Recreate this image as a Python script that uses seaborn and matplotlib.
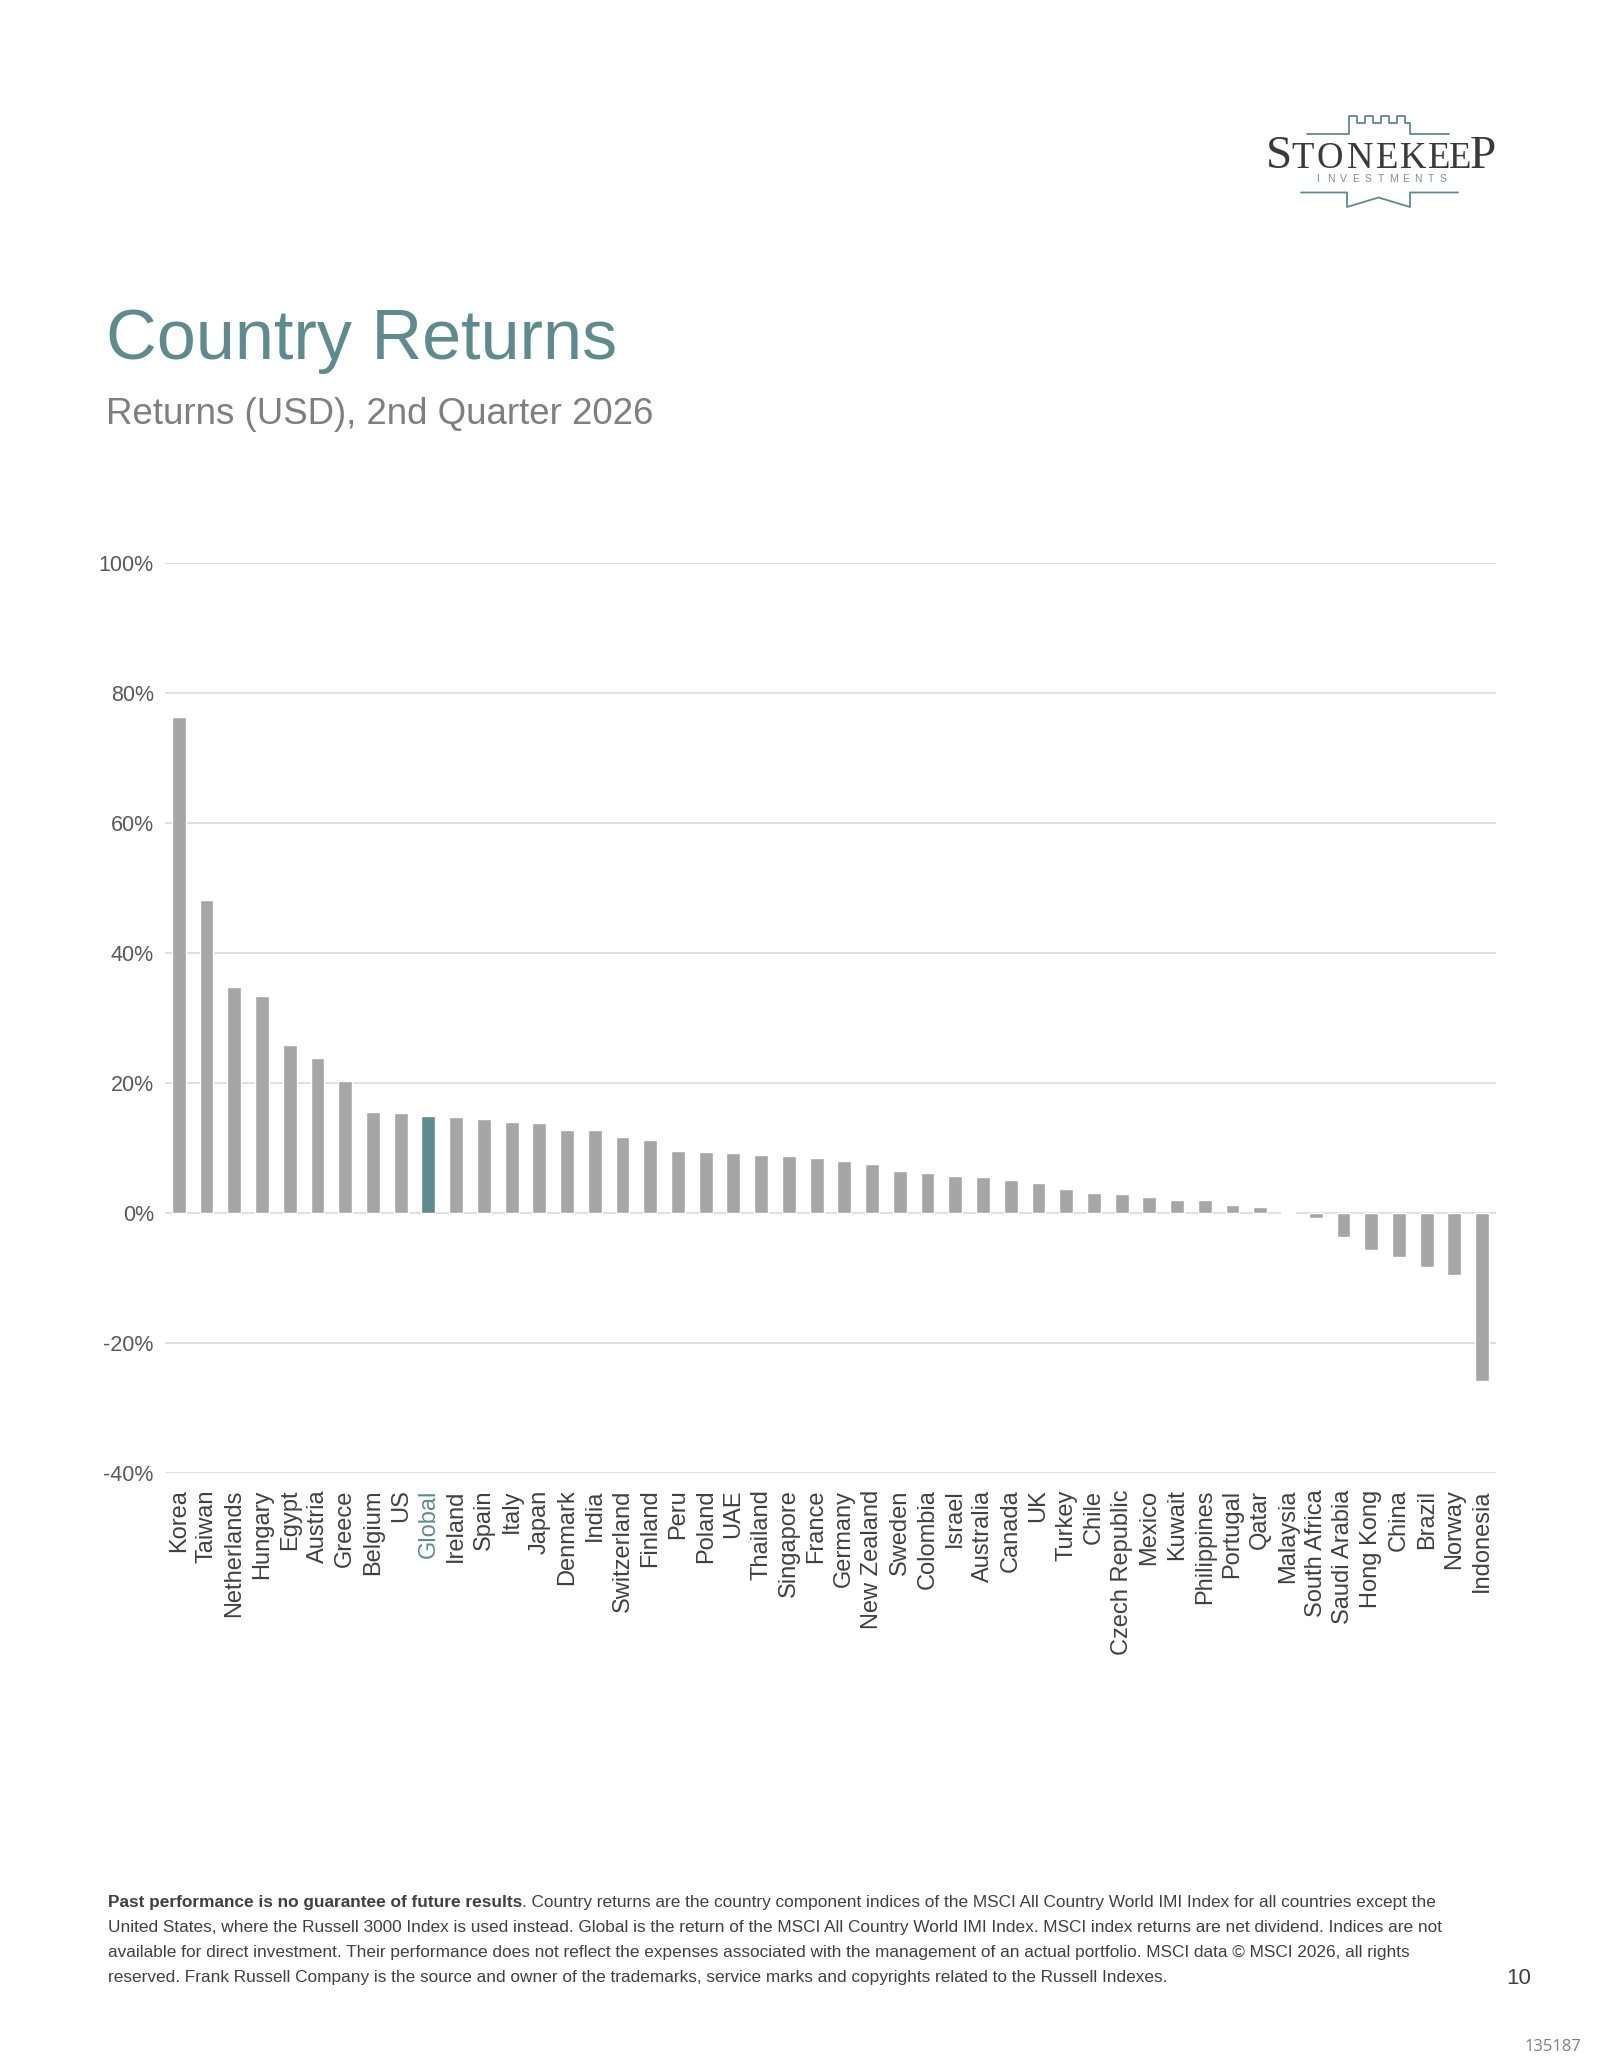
import numpy as np
import pandas as pd
import seaborn as sns
import matplotlib.pyplot as plt
from matplotlib.ticker import FuncFormatter

# data
countries = ["Korea", "Taiwan", "Netherlands", "Hungary", "Egypt", "Austria", "Greece",
             "Belgium", "US", "Global", "Ireland", "Spain", "Italy", "Japan", "Denmark",
             "India", "Switzerland", "Finland", "Peru", "Poland", "UAE", "Thailand",
             "Singapore", "France", "Germany", "New Zealand", "Sweden", "Colombia",
             "Israel", "Australia", "Canada", "UK", "Turkey", "Chile", "Czech Republic",
             "Mexico", "Kuwait", "Philippines", "Portugal", "Qatar", "Malaysia",
             "South Africa", "Saudi Arabia", "Hong Kong", "China", "Brazil", "Norway",
             "Indonesia"]
returns = [76.3, 48.1, 34.7, 33.4, 25.9, 23.9, 20.3,
           15.5, 15.3, 14.9, 14.7, 14.5, 14.0, 13.9, 12.8,
           12.7, 11.7, 11.2, 9.5, 9.3, 9.2, 8.9,
           8.7, 8.5, 8.0, 7.5, 6.5, 6.2,
           5.6, 5.5, 5.1, 4.6, 3.6, 3.0, 2.9,
           2.5, 2.0, 2.0, 1.2, 0.9, 0.1,
           -0.8, -3.7, -5.7, -6.8, -8.4, -9.5,
           -25.9]
highlight = "Global"
y_ticks = [-40, -20, 0, 20, 40, 60, 80, 100]

title = "Country Returns"
subtitle = "Returns (USD), 2nd Quarter 2026"
foot_bold = "Past performance is no guarantee of future results"
foot_lines = [
    ". Country returns are the country component indices of the MSCI All Country World IMI Index for all countries except the",
    "United States, where the Russell 3000 Index is used instead. Global is the return of the MSCI All Country World IMI Index. MSCI index returns are net dividend. Indices are not",
    "available for direct investment. Their performance does not reflect the expenses associated with the management of an actual portfolio. MSCI data \u00a9 MSCI 2026, all rights",
    "reserved. Frank Russell Company is the source and owner of the trademarks, service marks and copyrights related to the Russell Indexes.",
]

TEAL = "#5f8b8f"
BAR_GREY = "#a6a6a6"
GRID = "#d9d9d9"

sns.set_style("white")
plt.rcParams["font.family"] = ["Liberation Sans", "DejaVu Sans"]

df = pd.DataFrame({"country": countries, "ret": returns})
colors = [TEAL if c == highlight else BAR_GREY for c in countries]

fig = plt.figure(figsize=(16, 20.71), dpi=100)
ax = fig.add_axes([0.1031, 0.2888, 0.8319, 0.4394])
sns.barplot(data=df, x="country", y="ret", hue="country", palette=colors,
            legend=False, width=0.5, saturation=1, ax=ax)

ax.set_ylim(-40, 100)
ax.set_xlim(-0.5, len(countries) - 0.5)
ax.set_yticks(y_ticks)
ax.yaxis.set_major_formatter(FuncFormatter(lambda v, _: f"{v:.0f}%"))
ax.yaxis.grid(True, color=GRID, linewidth=1.2)
ax.set_axisbelow(True)
ax.set_xlabel("")
ax.set_ylabel("")
sns.despine(ax=ax, left=True, bottom=True)
ax.tick_params(axis="y", length=0, labelsize=15.5, labelcolor="#595959", pad=8)
ax.tick_params(axis="x", length=0, labelsize=17, labelcolor="#404040", pad=12,
               labelrotation=90)
for lbl in ax.get_xticklabels():
    if lbl.get_text() == highlight:
        lbl.set_color(TEAL)

# page overlay in pixel coordinates
pg = fig.add_axes([0, 0, 1, 1], zorder=-1)
pg.set_xlim(0, 1600)
pg.set_ylim(2071, 0)
pg.axis("off")

pg.text(106, 359, title, fontsize=50.6, color=TEAL, va="baseline")
pg.text(106, 424, subtitle, fontsize=26.4, color="#7f7f7f", va="baseline")

# logo
logo_font = ["Liberation Serif", "DejaVu Serif"]
logo_x = [1266, 1291, 1316, 1347, 1376, 1400, 1428, 1449, 1470]
logo_letters = "STONEKEEP"
for i, ch in enumerate(logo_letters):
    big = i in (0, len(logo_letters) - 1)
    pg.text(logo_x[i], 168, ch, fontsize=34 if big else 26.5, color="#3a3a3a",
            family=logo_font, va="baseline", ha="left")
inv = "INVESTMENTS"
for i, ch in enumerate(inv):
    pg.text(1318 + i * 12.5, 179, ch, fontsize=7.5, color="#8a8a8a",
            ha="center", va="center")
top_x = [1307, 1349, 1349, 1357, 1357, 1365, 1365, 1373, 1373, 1381, 1381,
         1389, 1389, 1397, 1397, 1405, 1405, 1410, 1410, 1449]
top_y = [134, 134, 116, 116, 123, 123, 116, 116, 123, 123, 116,
         116, 123, 123, 116, 116, 123, 123, 134, 134]
pg.plot(top_x, top_y, color=TEAL, linewidth=1.3)
bot_x = [1301, 1347, 1347, 1378.5, 1410, 1410, 1458]
bot_y = [192.5, 192.5, 207, 197.5, 207, 192.5, 192.5]
pg.plot(bot_x, bot_y, color=TEAL, linewidth=1.3)

# footer
foot_size = 12.4
fb = pg.text(108, 1907, foot_bold, fontsize=foot_size, fontweight="bold", color="#404040",
             va="baseline")
pg.annotate(foot_lines[0], xy=(1, 0), xycoords=fb, fontsize=foot_size, color="#404040",
            va="bottom")
for i, line in enumerate(foot_lines[1:]):
    pg.text(108, 1932 + i * 25, line, fontsize=foot_size, color="#404040",
            va="baseline")

pg.text(1519, 1979, "10", fontsize=16, color="#404040", ha="center", va="center")
pg.text(1581, 2047, "135187", fontsize=12, color="#808080", ha="right", va="center",
        family=["Open Sans", "DejaVu Sans"])

fig.savefig("out.png", dpi=100)
